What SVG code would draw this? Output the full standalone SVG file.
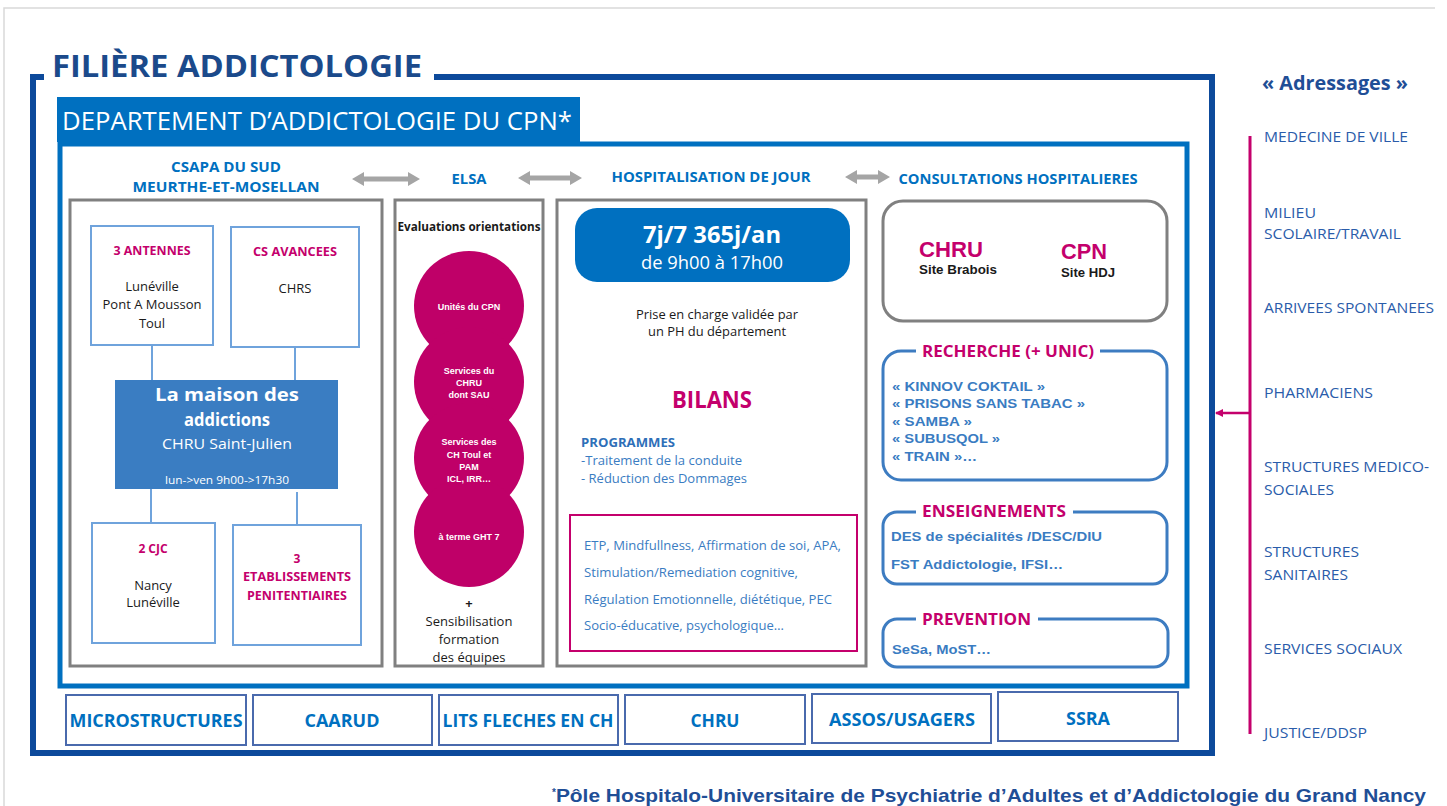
<svg xmlns="http://www.w3.org/2000/svg" width="1447" height="806" viewBox="0 0 1447 806">
<style>
.cal{font-family:"Open Sans","Liberation Sans",sans-serif}
.ari{font-family:"Liberation Sans",Arial,sans-serif}
.b{font-weight:bold}
.mid{text-anchor:middle}
.pink{fill:#c4006c}
.blue{fill:#0070c0}
.lblue{fill:#3a7cc2}
.blk{fill:#1a1a1a}
.wht{fill:#ffffff}
.lbox{fill:#ffffff;stroke:#6fa3dc;stroke-width:2}
.gbox{fill:#ffffff;stroke:#808080;stroke-width:3}
.rbox{fill:#ffffff;stroke:#3d7cc1;stroke-width:3}
.bbox{fill:#ffffff;stroke:#4a6aad;stroke-width:2}
.adr{fill:#2a5caa;font-size:14px}
.bot{fill:#0070c0;font-size:17px;font-weight:bold}
.circ{fill:#bf0068}
.ct{fill:#ffffff;font-size:9px;font-weight:bold}
.conn{stroke:#6fa3dc;stroke-width:2;fill:none}
.garrow{fill:#a5a5a5}
</style>
<defs>
<marker id="pa" markerWidth="8" markerHeight="8" refX="7" refY="4" orient="auto" markerUnits="userSpaceOnUse">
<path d="M0,0 L8,4 L0,8 z" fill="#c4006c"/>
</marker>
</defs>
<rect x="0" y="0" width="1447" height="806" fill="#ffffff"/>
<!-- slide border -->
<path d="M4,806 L4,8 L1435,8" fill="none" stroke="#d9d9d9" stroke-width="1.5"/>

<!-- outer frame -->
<g id="outer-frame">
<rect x="33" y="77" width="1179" height="676" fill="none" stroke="#0d4a9b" stroke-width="6"/>
<rect x="44" y="60" width="390" height="30" fill="#ffffff"/>
<text x="52" y="77" class="cal b" font-size="30" fill="#1b4a8b" textLength="370" lengthAdjust="spacingAndGlyphs">FILIÈRE ADDICTOLOGIE</text>
</g>

<!-- inner department frame -->
<g id="departement">
<rect x="60" y="144" width="1127" height="542" fill="none" stroke="#0070c0" stroke-width="5"/>
<rect x="57" y="97" width="523" height="45" fill="#0070c0"/>
<text x="62" y="130" class="cal wht" font-size="26" textLength="510" lengthAdjust="spacingAndGlyphs">DEPARTEMENT D’ADDICTOLOGIE DU CPN*</text>
</g>

<!-- column headers -->
<g id="headers">
<text x="226" y="172" class="cal b mid blue" font-size="14" textLength="110" lengthAdjust="spacingAndGlyphs">CSAPA DU SUD</text>
<text x="226" y="192" class="cal b mid blue" font-size="14" textLength="187" lengthAdjust="spacingAndGlyphs">MEURTHE-ET-MOSELLAN</text>
<text x="469" y="184" class="cal b mid blue" font-size="14" textLength="35" lengthAdjust="spacingAndGlyphs">ELSA</text>
<text x="711" y="182" class="cal b mid blue" font-size="14" textLength="199" lengthAdjust="spacingAndGlyphs">HOSPITALISATION DE JOUR</text>
<text x="1018" y="184" class="cal b mid blue" font-size="14" textLength="239" lengthAdjust="spacingAndGlyphs">CONSULTATIONS HOSPITALIERES</text>
</g>

<!-- CSAPA column -->
<g id="csapa">
<rect class="gbox" x="70" y="200" width="312" height="466"/>
</g>
<g id="antennes">
<rect class="lbox" x="91" y="226" width="122" height="119"/>
<text x="152" y="255" class="cal b mid pink" font-size="12" textLength="77" lengthAdjust="spacingAndGlyphs">3 ANTENNES</text>
<text x="152" y="291" class="cal mid blk" font-size="13">Lunéville</text>
<text x="152" y="309" class="cal mid blk" font-size="13" textLength="99" lengthAdjust="spacingAndGlyphs">Pont A Mousson</text>
<text x="152" y="328" class="cal mid blk" font-size="13">Toul</text>
</g>
<g id="cs-avancees">
<rect class="lbox" x="231" y="227" width="128" height="120"/>
<text x="295" y="256" class="cal b mid pink" font-size="12" textLength="84" lengthAdjust="spacingAndGlyphs">CS AVANCEES</text>
<text x="295" y="293" class="cal mid blk" font-size="13">CHRS</text>
</g>
<g id="maison">
<rect x="115" y="380" width="223" height="109" fill="#3a7dc2"/>
<text x="227" y="401" class="cal b mid wht" font-size="17" textLength="144" lengthAdjust="spacingAndGlyphs">La maison des</text>
<text x="227" y="426" class="cal b mid wht" font-size="17" textLength="86" lengthAdjust="spacingAndGlyphs">addictions</text>
<text x="227" y="449" class="cal mid wht" font-size="15" textLength="130" lengthAdjust="spacingAndGlyphs">CHRU Saint-Julien</text>
<text x="227" y="484" class="cal mid wht" font-size="11" textLength="124" lengthAdjust="spacingAndGlyphs">lun-&gt;ven 9h00-&gt;17h30</text>
</g>
<g id="cjc">
<rect class="lbox" x="92" y="523" width="123" height="120"/>
<text x="153" y="553" class="cal b mid pink" font-size="12">2 CJC</text>
<text x="153" y="590" class="cal mid blk" font-size="13">Nancy</text>
<text x="153" y="607" class="cal mid blk" font-size="13">Lunéville</text>
</g>
<g id="penitentiaires">
<rect class="lbox" x="233" y="525" width="128" height="120"/>
<text x="297" y="563" class="cal b mid pink" font-size="12">3</text>
<text x="297" y="581" class="cal b mid pink" font-size="12" textLength="108" lengthAdjust="spacingAndGlyphs">ETABLISSEMENTS</text>
<text x="297" y="600" class="cal b mid pink" font-size="12" textLength="100" lengthAdjust="spacingAndGlyphs">PENITENTIAIRES</text>
</g>

<!-- ELSA column -->
<g id="elsa">
<rect class="gbox" x="395" y="200" width="148" height="466"/>
<text x="469" y="231" class="cal b mid blk" font-size="12" textLength="143" lengthAdjust="spacingAndGlyphs">Evaluations orientations</text>
<circle class="circ" cx="469" cy="306" r="55"/>
<circle class="circ" cx="469" cy="382" r="55"/>
<circle class="circ" cx="469" cy="458" r="55"/>
<circle class="circ" cx="469" cy="532" r="55"/>
<text x="469" y="310" class="ari ct mid">Unités du CPN</text>
<text x="469" y="374" class="ari ct mid">Services du</text>
<text x="469" y="386" class="ari ct mid">CHRU</text>
<text x="469" y="398" class="ari ct mid">dont SAU</text>
<text x="469" y="445" class="ari ct mid">Services des</text>
<text x="469" y="458" class="ari ct mid">CH Toul et</text>
<text x="469" y="470" class="ari ct mid">PAM</text>
<text x="469" y="482" class="ari ct mid">ICL, IRR…</text>
<text x="469" y="540" class="ari ct mid">à terme GHT 7</text>
<text x="469" y="608" class="cal b mid blk" font-size="13">+</text>
<text x="469" y="626" class="cal mid blk" font-size="13">Sensibilisation</text>
<text x="469" y="644" class="cal mid blk" font-size="13">formation</text>
<text x="469" y="662" class="cal mid blk" font-size="13">des équipes</text>
</g>

<!-- Hospitalisation de jour -->
<g id="hdj">
<rect class="gbox" x="557" y="200" width="309" height="466"/>
<rect x="575" y="208" width="275" height="74" rx="22" fill="#0070c0"/>
<text x="712" y="243" class="cal b mid wht" font-size="24" textLength="138" lengthAdjust="spacingAndGlyphs">7j/7 365j/an</text>
<text x="712" y="269" class="cal mid wht" font-size="18" textLength="142" lengthAdjust="spacingAndGlyphs">de 9h00 à 17h00</text>
<text x="717" y="319" class="cal mid blk" font-size="13" textLength="162" lengthAdjust="spacingAndGlyphs">Prise en charge validée par</text>
<text x="717" y="336" class="cal mid blk" font-size="13" textLength="138" lengthAdjust="spacingAndGlyphs">un PH du département</text>
<text x="712" y="408" class="cal b mid pink" font-size="24" textLength="80" lengthAdjust="spacingAndGlyphs">BILANS</text>
<text x="581" y="447" class="cal b" font-size="12" fill="#2e6fb8" textLength="94" lengthAdjust="spacingAndGlyphs">PROGRAMMES</text>
<text x="581" y="465" class="cal lblue" font-size="12.5" textLength="161" lengthAdjust="spacingAndGlyphs">-Traitement de la conduite</text>
<text x="581" y="483" class="cal lblue" font-size="12.5" textLength="166" lengthAdjust="spacingAndGlyphs">- Réduction des Dommages</text>
</g>
<g id="activites">
<rect x="570" y="515" width="287" height="136" fill="none" stroke="#c4006c" stroke-width="2"/>
<text x="584" y="550" class="cal lblue" font-size="12.5" textLength="257" lengthAdjust="spacingAndGlyphs">ETP, Mindfullness, Affirmation de soi, APA,</text>
<text x="584" y="577" class="cal lblue" font-size="12.5" textLength="214" lengthAdjust="spacingAndGlyphs">Stimulation/Remediation cognitive,</text>
<text x="584" y="604" class="cal lblue" font-size="12.5" textLength="248" lengthAdjust="spacingAndGlyphs">Régulation Emotionnelle, diététique, PEC</text>
<text x="584" y="630" class="cal lblue" font-size="12.5" textLength="200" lengthAdjust="spacingAndGlyphs">Socio-éducative, psychologique…</text>
</g>

<!-- Consultations -->
<g id="consultations">
<rect class="gbox" x="883" y="201" width="284" height="120" rx="20"/>
<text x="919" y="257" class="ari b pink" font-size="22" textLength="64" lengthAdjust="spacingAndGlyphs">CHRU</text>
<text x="919" y="274" class="ari b blk" font-size="12" textLength="78" lengthAdjust="spacingAndGlyphs">Site Brabois</text>
<text x="1061" y="259" class="ari b pink" font-size="22" textLength="46" lengthAdjust="spacingAndGlyphs">CPN</text>
<text x="1061" y="277" class="ari b blk" font-size="12" textLength="54" lengthAdjust="spacingAndGlyphs">Site HDJ</text>
</g>
<g id="recherche">
<rect class="rbox" x="883" y="351" width="284" height="129" rx="18"/>
<rect x="916" y="340" width="184" height="22" fill="#ffffff"/>
<text x="922" y="357" class="cal b pink" font-size="16" textLength="172" lengthAdjust="spacingAndGlyphs">RECHERCHE (+ UNIC)</text>
<text x="892" y="391" class="ari b lblue" font-size="13" textLength="153" lengthAdjust="spacingAndGlyphs">« KINNOV COKTAIL »</text>
<text x="892" y="408" class="ari b lblue" font-size="13" textLength="193" lengthAdjust="spacingAndGlyphs">« PRISONS SANS TABAC »</text>
<text x="892" y="426" class="ari b lblue" font-size="13" textLength="80" lengthAdjust="spacingAndGlyphs">« SAMBA »</text>
<text x="892" y="443" class="ari b lblue" font-size="13" textLength="108" lengthAdjust="spacingAndGlyphs">« SUBUSQOL »</text>
<text x="892" y="461" class="ari b lblue" font-size="13" textLength="85" lengthAdjust="spacingAndGlyphs">« TRAIN »…</text>
</g>
<g id="enseignements">
<rect class="rbox" x="883" y="512" width="284" height="72" rx="14"/>
<rect x="916" y="500" width="157" height="22" fill="#ffffff"/>
<text x="922" y="517" class="cal b pink" font-size="16" textLength="144" lengthAdjust="spacingAndGlyphs">ENSEIGNEMENTS</text>
<text x="891" y="541" class="ari b lblue" font-size="13" textLength="211" lengthAdjust="spacingAndGlyphs">DES de spécialités /DESC/DIU</text>
<text x="891" y="569" class="ari b lblue" font-size="13" textLength="172" lengthAdjust="spacingAndGlyphs">FST Addictologie, IFSI…</text>
</g>
<g id="prevention">
<rect class="rbox" x="883" y="619" width="285" height="48" rx="14"/>
<rect x="916" y="607" width="122" height="22" fill="#ffffff"/>
<text x="922" y="625" class="cal b pink" font-size="16" textLength="109" lengthAdjust="spacingAndGlyphs">PREVENTION</text>
<text x="892" y="654" class="ari b lblue" font-size="13" textLength="99" lengthAdjust="spacingAndGlyphs">SeSa, MoST…</text>
</g>

<!-- bottom row -->
<g id="microstructures"><rect class="bbox" x="66" y="695" width="180" height="50"/><text x="156" y="727" class="cal mid bot" textLength="173" lengthAdjust="spacingAndGlyphs">MICROSTRUCTURES</text></g>
<g id="caarud"><rect class="bbox" x="253" y="695" width="179" height="50"/><text x="342" y="727" class="cal mid bot" textLength="75" lengthAdjust="spacingAndGlyphs">CAARUD</text></g>
<g id="lits"><rect class="bbox" x="439" y="695" width="179" height="50"/><text x="528" y="727" class="cal mid bot" textLength="171" lengthAdjust="spacingAndGlyphs">LITS FLECHES EN CH</text></g>
<g id="chru-bas"><rect class="bbox" x="625" y="695" width="180" height="49"/><text x="715" y="727" class="cal mid bot" textLength="49" lengthAdjust="spacingAndGlyphs">CHRU</text></g>
<g id="assos"><rect class="bbox" x="812" y="694" width="179" height="49"/><text x="902" y="726" class="cal mid bot" textLength="146" lengthAdjust="spacingAndGlyphs">ASSOS/USAGERS</text></g>
<g id="ssra"><rect class="bbox" x="998" y="692" width="180" height="49"/><text x="1088" y="725" class="cal mid bot" textLength="44" lengthAdjust="spacingAndGlyphs">SSRA</text></g>

<!-- Adressages -->
<g id="adressages">
<text x="1262" y="90" class="cal b" font-size="20" fill="#1f4e96" textLength="146" lengthAdjust="spacingAndGlyphs">« Adressages »</text>
<text x="1264" y="142" class="cal adr" textLength="144" lengthAdjust="spacingAndGlyphs">MEDECINE DE VILLE</text>
<text x="1264" y="218" class="cal adr" textLength="52" lengthAdjust="spacingAndGlyphs">MILIEU</text>
<text x="1264" y="239" class="cal adr" textLength="137" lengthAdjust="spacingAndGlyphs">SCOLAIRE/TRAVAIL</text>
<text x="1264" y="313" class="cal adr" textLength="170" lengthAdjust="spacingAndGlyphs">ARRIVEES SPONTANEES</text>
<text x="1264" y="398" class="cal adr" textLength="109" lengthAdjust="spacingAndGlyphs">PHARMACIENS</text>
<text x="1264" y="472" class="cal adr" textLength="165" lengthAdjust="spacingAndGlyphs">STRUCTURES MEDICO-</text>
<text x="1264" y="495" class="cal adr" textLength="70" lengthAdjust="spacingAndGlyphs">SOCIALES</text>
<text x="1264" y="557" class="cal adr" textLength="95" lengthAdjust="spacingAndGlyphs">STRUCTURES</text>
<text x="1264" y="580" class="cal adr" textLength="84" lengthAdjust="spacingAndGlyphs">SANITAIRES</text>
<text x="1264" y="654" class="cal adr" textLength="138" lengthAdjust="spacingAndGlyphs">SERVICES SOCIAUX</text>
<text x="1264" y="738" class="cal adr" fill="#3a5a8a" textLength="103" lengthAdjust="spacingAndGlyphs">JUSTICE/DDSP</text>
</g>

<!-- connectors -->
<g id="connectors">
<polygon class="garrow" points="352,179 364,172 364,176.5 408,176.5 408,172 420,179 408,186 408,181.5 364,181.5 364,186"/>
<polygon class="garrow" points="518,178 530,171 530,175.5 570,175.5 570,171 582,178 570,185 570,180.5 530,180.5 530,185"/>
<polygon class="garrow" points="845,177 857,170 857,174.5 878,174.5 878,170 890,177 878,184 878,179.5 857,179.5 857,184"/>
<line class="conn" x1="152" y1="346" x2="152" y2="380"/>
<line class="conn" x1="295" y1="348" x2="295" y2="380"/>
<line class="conn" x1="151" y1="489" x2="151" y2="522"/>
<line class="conn" x1="297" y1="492" x2="297" y2="524"/>
<line x1="1250" y1="136" x2="1250" y2="734" stroke="#c4006c" stroke-width="3"/>
<line x1="1250" y1="413" x2="1216" y2="413" stroke="#c4006c" stroke-width="2.5" marker-end="url(#pa)"/>
</g>

<!-- footer -->
<g id="footer">
<text x="552" y="802" class="ari b" fill="#1f4e96"><tspan font-size="10" dy="-6">*</tspan><tspan font-size="19" dy="6" textLength="870" lengthAdjust="spacingAndGlyphs">Pôle Hospitalo-Universitaire de Psychiatrie d’Adultes et d’Addictologie du Grand Nancy</tspan></text>
</g>
</svg>
